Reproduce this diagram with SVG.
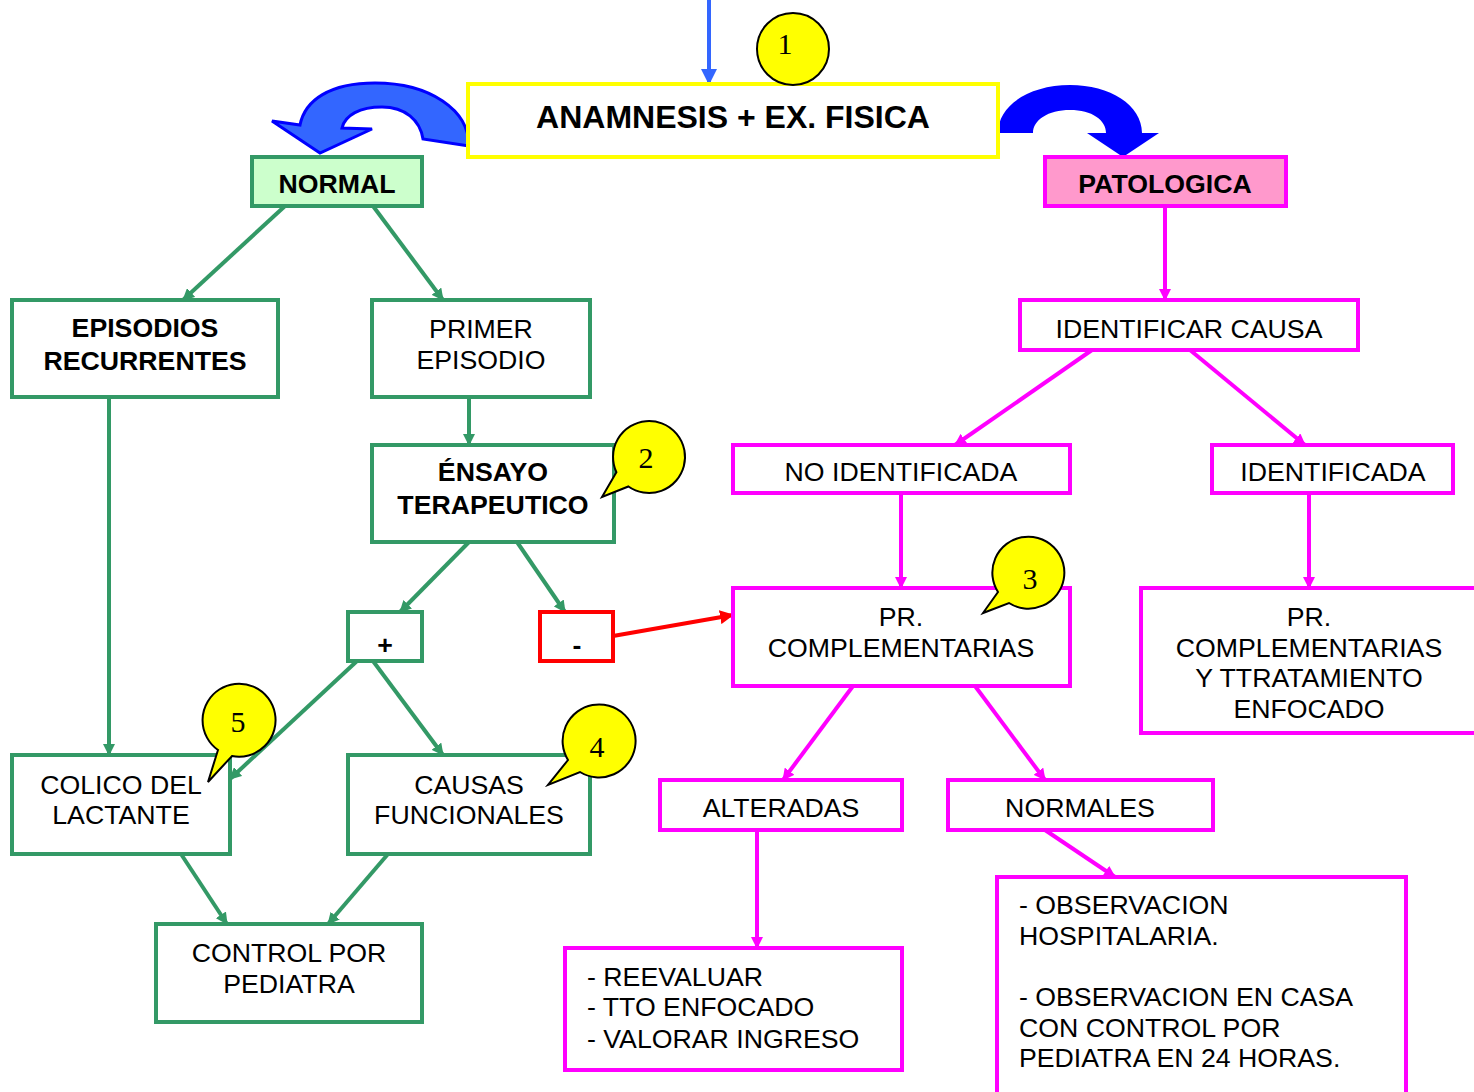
<svg xmlns="http://www.w3.org/2000/svg" width="1474" height="1092" viewBox="0 0 1474 1092">
<style>
text{font-family:"Liberation Sans",Arial,sans-serif;font-size:26.7px;fill:#000;text-anchor:middle}
.b{font-weight:bold}
.l{text-anchor:start}
.g{fill:#fff;stroke:#339966;stroke-width:4}
.m{fill:#fff;stroke:#ff00ff;stroke-width:4}
.cg{stroke:#339966;stroke-width:4;fill:none;marker-end:url(#ag)}
.cm{stroke:#ff00ff;stroke-width:4;fill:none;marker-end:url(#am)}
.co{fill:#ffff00;stroke:#000;stroke-width:2}
.cn{font-family:"Liberation Serif","Times New Roman",serif;font-size:30px}
</style>
<defs>
<marker id="ag" viewBox="0 0 12 12" refX="11" refY="6" markerWidth="12" markerHeight="12" markerUnits="userSpaceOnUse" orient="auto"><path d="M0,0 L12,6 L0,12 Z" fill="#339966"/></marker>
<marker id="am" viewBox="0 0 12 12" refX="11" refY="6" markerWidth="12" markerHeight="12" markerUnits="userSpaceOnUse" orient="auto"><path d="M0,0 L12,6 L0,12 Z" fill="#ff00ff"/></marker>
<marker id="ar" viewBox="0 0 14 14" refX="13" refY="7" markerWidth="14" markerHeight="14" markerUnits="userSpaceOnUse" orient="auto"><path d="M0,0 L14,7 L0,14 Z" fill="#ff0000"/></marker>
<marker id="ab" viewBox="0 0 16 16" refX="15" refY="8" markerWidth="16" markerHeight="16" markerUnits="userSpaceOnUse" orient="auto"><path d="M0,0 L16,8 L0,16 Z" fill="#3366ff"/></marker>
</defs>
<rect width="1474" height="1092" fill="#fff"/>

<g id="connectors">
<line x1="709" y1="0" x2="709" y2="84" stroke="#3366ff" stroke-width="4" marker-end="url(#ab)"/>
<path d="M469,146 C469,110 430,83 375,83 C330,83 305,100 300,125 L272,121 L320,153 L372,129 L342,128 C345,115 360,107 382,107 C405,107 420,120 423,139 Z" fill="#3366ff" stroke="#0000ff" stroke-width="3"/>
<path d="M998,133 C998,105 1030,85 1070,85 C1110,85 1142,105 1142,133 L1159,133 L1123,157 L1087,133 L1106,133 C1106,120 1092,110 1070,110 C1048,110 1033,120 1033,133 Z" fill="#0000ff"/>
<line class="cg" x1="285" y1="206" x2="183" y2="300"/>
<line class="cg" x1="373" y1="206" x2="443" y2="300"/>
<line class="cg" x1="469" y1="397" x2="469" y2="445"/>
<line class="cg" x1="469" y1="542" x2="400" y2="612"/>
<line class="cg" x1="517" y1="542" x2="565" y2="612"/>
<line class="cg" x1="357" y1="661" x2="230" y2="779"/>
<line class="cg" x1="373" y1="661" x2="443" y2="755"/>
<line class="cg" x1="109" y1="397" x2="109" y2="755"/>
<line class="cg" x1="181" y1="854" x2="227" y2="924"/>
<line class="cg" x1="388" y1="854" x2="328" y2="924"/>
<line x1="613" y1="636" x2="733" y2="615" stroke="#ff0000" stroke-width="4" marker-end="url(#ar)"/>
<line class="cm" x1="1165" y1="206" x2="1165" y2="300"/>
<line class="cm" x1="1092" y1="350" x2="955" y2="445"/>
<line class="cm" x1="1190" y1="350" x2="1305" y2="445"/>
<line class="cm" x1="901" y1="493" x2="901" y2="588"/>
<line class="cm" x1="1309" y1="493" x2="1309" y2="588"/>
<line class="cm" x1="853" y1="686" x2="783" y2="780"/>
<line class="cm" x1="975" y1="686" x2="1045" y2="780"/>
<line class="cm" x1="757" y1="830" x2="757" y2="948"/>
<line class="cm" x1="1045" y1="830" x2="1115" y2="877"/>
</g>

<g id="anamnesis"><rect x="468" y="84" width="530" height="73" fill="#fff" stroke="#ffff00" stroke-width="4"/><text class="b" x="733" y="128" style="font-size:32px">ANAMNESIS + EX. FISICA</text></g>
<g id="callout1"><circle class="co" cx="793" cy="49" r="36"/><text class="cn" x="785" y="54">1</text></g>

<g id="normal"><rect x="252" y="157" width="170" height="49" fill="#ccffcc" stroke="#339966" stroke-width="4"/><text class="b" x="337" y="193">NORMAL</text></g>
<g id="patologica"><rect x="1045" y="157" width="241" height="49" fill="#ff99cc" stroke="#ff00ff" stroke-width="4"/><text class="b" x="1165" y="193">PATOLOGICA</text></g>

<g id="episodios"><rect class="g" x="12" y="300" width="266" height="97"/><text class="b" x="145" y="337">EPISODIOS</text><text class="b" x="145" y="370">RECURRENTES</text></g>
<g id="primer"><rect class="g" x="372" y="300" width="218" height="97"/><text x="481" y="338">PRIMER</text><text x="481" y="369">EPISODIO</text></g>
<g id="ensayo"><rect class="g" x="372" y="445" width="242" height="97"/><text class="b" x="493" y="481">ÉNSAYO</text><text class="b" x="493" y="514">TERAPEUTICO</text></g>
<g id="callout2"><path class="co" d="M628.4,486.5 A36,36 0 1 0 616.4,472.2 L602,497 Z"/><text class="cn" x="646" y="468">2</text></g>
<g id="plus"><rect class="g" x="348" y="612" width="74" height="49"/><text class="b" x="385" y="654">+</text></g>
<g id="minus"><rect x="540" y="612" width="73" height="49" fill="#fff" stroke="#ff0000" stroke-width="4"/><text class="b" x="577" y="654">-</text></g>
<g id="colico"><rect class="g" x="12" y="755" width="218" height="99"/><text x="121" y="794">COLICO DEL</text><text x="121" y="824">LACTANTE</text></g>
<g id="causas"><rect class="g" x="348" y="755" width="242" height="99"/><text x="469" y="794">CAUSAS</text><text x="469" y="824">FUNCIONALES</text></g>
<g id="callout5"><path class="co" d="M232,756 A36.5,36.5 0 1 0 218,750 L208,782 Z"/><text class="cn" x="238" y="732">5</text></g>
<g id="callout4"><path class="co" d="M580,772 A36.5,36.5 0 1 0 568,760 L548,785 Z"/><text class="cn" x="597" y="757">4</text></g>
<g id="control"><rect class="g" x="156" y="924" width="266" height="98"/><text x="289" y="962">CONTROL POR</text><text x="289" y="993">PEDIATRA</text></g>

<g id="identificar"><rect class="m" x="1020" y="300" width="338" height="50"/><text x="1189" y="338">IDENTIFICAR CAUSA</text></g>
<g id="noidentificada"><rect class="m" x="733" y="445" width="337" height="48"/><text x="901" y="481">NO IDENTIFICADA</text></g>
<g id="identificada"><rect class="m" x="1212" y="445" width="241" height="48"/><text x="1333" y="481">IDENTIFICADA</text></g>
<g id="prcomp"><rect class="m" x="733" y="588" width="337" height="98"/><text x="901" y="626">PR.</text><text x="901" y="657">COMPLEMENTARIAS</text></g>
<g id="callout3"><path class="co" d="M1009,603 A36,36 0 1 0 998,592 L983,613 Z"/><text class="cn" x="1030" y="589">3</text></g>
<g id="prcomp2"><rect class="m" x="1141" y="588" width="340" height="145"/><text x="1309" y="626">PR.</text><text x="1309" y="657">COMPLEMENTARIAS</text><text x="1309" y="687">Y TTRATAMIENTO</text><text x="1309" y="718">ENFOCADO</text></g>
<g id="alteradas"><rect class="m" x="660" y="780" width="242" height="50"/><text x="781" y="817">ALTERADAS</text></g>
<g id="normales"><rect class="m" x="948" y="780" width="265" height="50"/><text x="1080" y="817">NORMALES</text></g>
<g id="reevaluar"><rect class="m" x="565" y="948" width="337" height="122"/><text class="l" x="587" y="986">- REEVALUAR</text><text class="l" x="587" y="1016">- TTO ENFOCADO</text><text class="l" x="587" y="1048">- VALORAR INGRESO</text></g>
<g id="observacion"><rect class="m" x="997" y="877" width="409" height="220"/><text class="l" x="1019" y="914">- OBSERVACION</text><text class="l" x="1019" y="945">HOSPITALARIA.</text><text class="l" x="1019" y="1006">- OBSERVACION EN CASA</text><text class="l" x="1019" y="1037">CON CONTROL POR</text><text class="l" x="1019" y="1067">PEDIATRA EN 24 HORAS.</text></g>
</svg>
